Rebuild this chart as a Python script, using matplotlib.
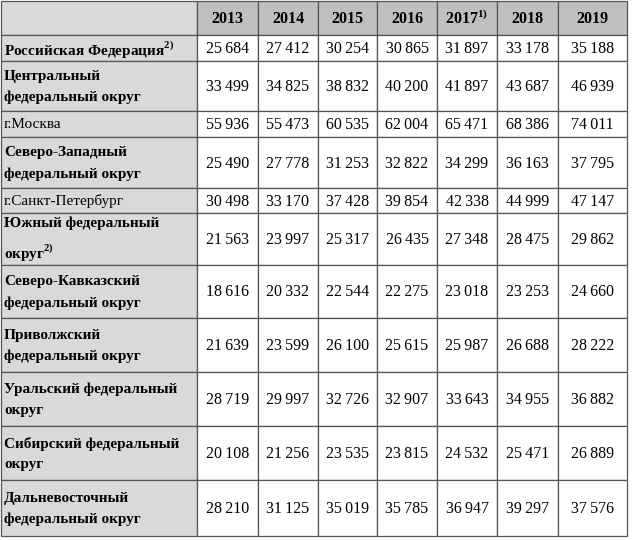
import matplotlib
matplotlib.use('Agg')
import matplotlib.pyplot as plt
from matplotlib.patches import Rectangle

plt.rcParams['font.family'] = 'Liberation Serif'
plt.rcParams['mathtext.fontset'] = 'custom'
plt.rcParams['mathtext.rm'] = 'Liberation Serif:bold'
plt.rcParams['mathtext.bf'] = 'Liberation Serif:bold'

years = ['2013', '2014', '2015', '2016', '2017$^{1)}$', '2018', '2019']
regions = ['Российская Федерация$^{2)}$', 'Центральный\nфедеральный округ', 'г.Москва',
           'Северо-Западный\nфедеральный округ', 'г.Санкт-Петербург',
           'Южный федеральный\nокруг$^{2)}$', 'Северо-Кавказский\nфедеральный округ',
           'Приволжский\nфедеральный округ', 'Уральский федеральный\nокруг',
           'Сибирский федеральный\nокруг', 'Дальневосточный\nфедеральный округ']
bold_rows = [True, True, False, True, False, True, True, True, True, True, True]
values = [
    [25684, 27412, 30254, 30865, 31897, 33178, 35188],
    [33499, 34825, 38832, 40200, 41897, 43687, 46939],
    [55936, 55473, 60535, 62004, 65471, 68386, 74011],
    [25490, 27778, 31253, 32822, 34299, 36163, 37795],
    [30498, 33170, 37428, 39854, 42338, 44999, 47147],
    [21563, 23997, 25317, 26435, 27348, 28475, 29862],
    [18616, 20332, 22544, 22275, 23018, 23253, 24660],
    [21639, 23599, 26100, 25615, 25987, 26688, 28222],
    [28719, 29997, 32726, 32907, 33643, 34955, 36882],
    [20108, 21256, 23535, 23815, 24532, 25471, 26889],
    [28210, 31125, 35019, 35785, 36947, 39297, 37576],
]

# pixel layout
row_edges = [1, 35, 61, 111, 137, 188, 213, 265, 318, 372, 426, 480, 536]
col_edges = [1, 197, 258, 318, 377, 437, 497, 558, 627]

fig = plt.figure(figsize=(6.4, 5.4), dpi=100)
ax = fig.add_axes([0, 0, 1, 1])
ax.set_xlim(0, 640)
ax.set_ylim(540, 0)
ax.axis('off')

def cell(c, r, color):
    x0, x1 = col_edges[c], col_edges[c + 1]
    y0, y1 = row_edges[r], row_edges[r + 1]
    ax.add_patch(Rectangle((x0, y0), x1 - x0, y1 - y0, facecolor=color,
                           edgecolor='#555555', linewidth=0.9))
    return x0, x1, y0, y1

x0, x1, y0, y1 = cell(0, 0, '#d9d9d9')
for j, yr in enumerate(years):
    x0, x1, y0, y1 = cell(j + 1, 0, '#bfbfbf')
    ax.text((x0 + x1) / 2, (y0 + y1) / 2 + 1, yr, ha='center', va='center',
            fontsize=11.5, fontweight='bold')

for i, reg in enumerate(regions):
    x0, x1, y0, y1 = cell(0, i + 1, '#d9d9d9')
    ax.text(x0 + 3, (y0 + y1) / 2 + 1, reg, ha='left', va='center', fontsize=11,
            fontweight='bold' if bold_rows[i] else 'normal', linespacing=1.75)
    for j, v in enumerate(values[i]):
        x0, x1, y0, y1 = cell(j + 1, i + 1, 'white')
        s = '{:,}'.format(v).replace(',', '\u2009')
        ax.text((x0 + x1) / 2, (y0 + y1) / 2 + 1, s, ha='center', va='center',
                fontsize=11.5)

fig.savefig('out.png', dpi=100)
